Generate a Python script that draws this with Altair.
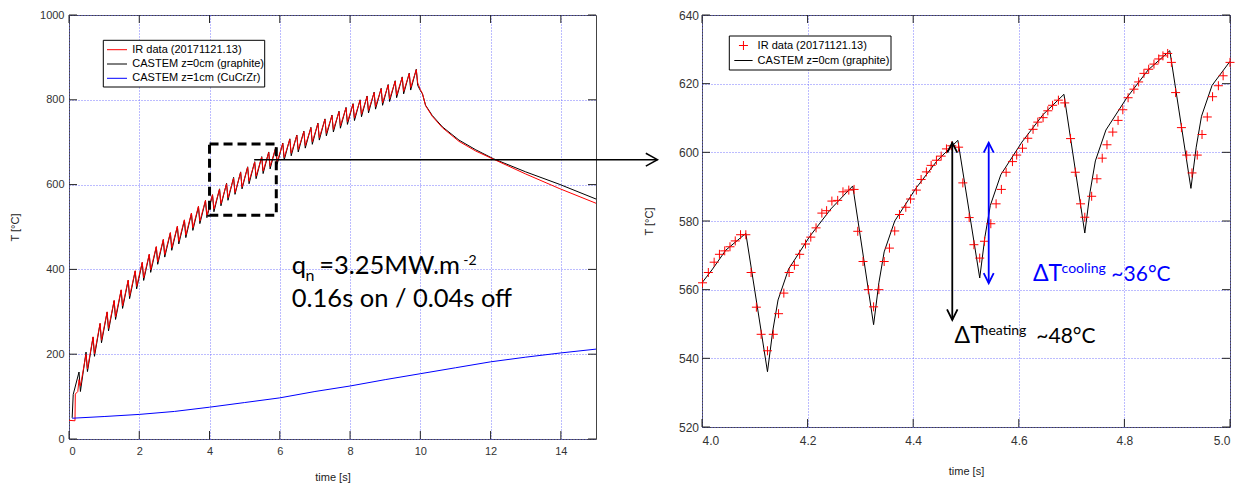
import altair as alt
import pandas as pd

# ======================= LEFT PANEL DATA (full shot) =======================
LEFT_SERIES = ["IR data (20171121.13)", "CASTEM z=0cm (graphite)", "CASTEM z=1cm (CuCrZr)"]
LEFT_COLORS = ["#ff0000", "#000000", "#0000ff"]

# end of each 0.16 s heating phase (peaks) and end of each 0.04 s off phase (troughs)
pulse_peak_t = [0.285, 0.485, 0.685, 0.885, 1.085, 1.285, 1.485, 1.685, 1.885, 2.085,
                2.285, 2.485, 2.685, 2.885, 3.085, 3.285, 3.485, 3.685, 3.885, 4.085,
                4.285, 4.485, 4.685, 4.885, 5.085, 5.285, 5.485, 5.685, 5.885, 6.085,
                6.285, 6.485, 6.685, 6.885, 7.085, 7.285, 7.485, 7.685, 7.885, 8.085,
                8.285, 8.485, 8.685, 8.885, 9.085, 9.285, 9.485, 9.685, 9.885]
pulse_trough_t = [0.325, 0.525, 0.725, 0.925, 1.125, 1.325, 1.525, 1.725, 1.925, 2.125,
                  2.325, 2.525, 2.725, 2.925, 3.125, 3.325, 3.525, 3.725, 3.925, 4.125,
                  4.325, 4.525, 4.725, 4.925, 5.125, 5.325, 5.525, 5.725, 5.925, 6.125,
                  6.325, 6.525, 6.725, 6.925, 7.125, 7.325, 7.525, 7.725, 7.925, 8.125,
                  8.325, 8.525, 8.725, 8.925, 9.125, 9.325, 9.525, 9.725, 9.925]
castem_peak = [158, 205, 240, 272, 299, 326, 351, 374, 396, 416,
               435, 453, 470, 486, 501, 516, 532, 548, 562, 576,
               590, 603, 617, 630, 642, 654, 666, 677, 688, 698,
               708, 717, 726, 735, 745, 755, 764, 773, 782, 791,
               800, 809, 818, 827, 836, 845, 854, 863, 872]
castem_trough = [112, 159, 195, 227, 255, 282, 308, 331, 354, 374,
                 393, 412, 429, 445, 460, 475, 492, 508, 522, 536,
                 550, 563, 577, 590, 602, 614, 626, 637, 648, 658,
                 668, 677, 686, 695, 705, 715, 724, 733, 742, 751,
                 760, 769, 778, 787, 796, 805, 814, 823, 834]
ir_peak = [140, 200, 241, 273, 300, 327, 352, 375, 397, 417,
           436, 454, 471, 487, 502, 517, 533, 549, 563, 576,
           589, 602, 615, 629, 641, 653, 665, 676, 687, 697,
           707, 716, 725, 734, 744, 754, 763, 772, 781, 790,
           799, 808, 817, 826, 835, 844, 853, 862, 871]
ir_trough = [125, 165, 201, 233, 261, 288, 314, 337, 360, 380,
             399, 418, 435, 451, 466, 481, 498, 514, 528, 542,
             555, 569, 581, 594, 608, 620, 632, 643, 654, 664,
             674, 683, 692, 701, 711, 721, 730, 739, 748, 757,
             766, 775, 784, 793, 802, 811, 820, 829, 840]
castem_start_t = [0.09, 0.12]
castem_start_T = [50, 105]
ir_start_t = [0.0, 0.17, 0.18, 0.25]
ir_start_T = [44, 43, 106, 112]
cool_t = [10.0, 10.06, 10.15, 10.34, 10.63, 11.1, 11.58, 12.08, 13.0, 13.95, 15.0]
castem_cool = [822, 814, 787, 763, 736, 705, 682, 661, 630, 601, 566]
ir_cool = [824, 815, 786, 761, 734, 702, 679, 660, 625, 591, 556]
cucrzr_t = [0.09, 1, 2, 3, 4, 5, 6, 7, 8, 9, 10, 11, 12, 13, 14, 15]
cucrzr_T = [49, 53, 58, 65, 75, 86, 97, 112, 125, 140, 154, 168, 182, 193, 203, 212]

left_x_ticks = [0, 2, 4, 6, 8, 10, 12, 14]
left_y_ticks = [0, 200, 400, 600, 800, 1000]

zoom_box_t = [4.0, 5.9]
zoom_box_T = [528, 696]
link_arrow_t = [5.27, 16.75]
link_arrow_T = 658.7

left_text = ["q", "n", "=3.25MW.m", "-2", "0.16s on / 0.04s off"]
left_text_t = [6.34, 6.73, 7.12, 11.22, 6.34]
left_text_T = [388, 372.5, 388, 410, 311]
left_text_size = [25.5, 16, 25.5, 14, 25.5]

# ======================= RIGHT PANEL DATA (zoom 4-5 s) =======================
RIGHT_SERIES = ["IR data (20171121.13)", "CASTEM z=0cm (graphite)"]
RIGHT_COLORS = ["#ff0000", "#000000"]

r_ir_t = [4.001, 4.012, 4.023, 4.033, 4.043, 4.053, 4.063, 4.073, 4.083, 4.093,
          4.103, 4.112, 4.124, 4.135, 4.145, 4.155, 4.165, 4.175, 4.185, 4.196,
          4.206, 4.216, 4.227, 4.236, 4.246, 4.257, 4.267, 4.278, 4.288, 4.295,
          4.305, 4.315, 4.325, 4.335, 4.345, 4.355, 4.365, 4.374, 4.386, 4.395,
          4.406, 4.415, 4.425, 4.434, 4.444, 4.453, 4.463, 4.473, 4.486, 4.494,
          4.506, 4.515, 4.526, 4.535, 4.547, 4.557, 4.567, 4.576, 4.588, 4.596,
          4.607, 4.617, 4.627, 4.636, 4.646, 4.655, 4.664, 4.675, 4.687, 4.698,
          4.707, 4.717, 4.725, 4.738, 4.748, 4.758, 4.767, 4.778, 4.788, 4.797,
          4.807, 4.818, 4.827, 4.837, 4.846, 4.856, 4.865, 4.873, 4.882, 4.889,
          4.897, 4.908, 4.918, 4.928, 4.938, 4.947, 4.957, 4.967, 4.978, 4.987,
          5.000]
r_ir_T = [562, 565, 568, 570.3, 571.3, 572.5, 574.2, 576, 576, 565,
          554.9, 547, 542.2, 547, 553, 559, 565, 567.1, 570.3, 573.3,
          575.3, 578, 582.3, 583, 585.8, 586, 588.5, 589, 589.2, 577,
          568.2, 560, 555, 560, 568.2, 572.1, 577.1, 581.9, 584, 586.4,
          589, 592.1, 594.3, 596.2, 597.7, 598.9, 601, 601.9, 601.5, 591.1,
          581, 573.1, 569.2, 574.1, 579.2, 585, 589.2, 594.2, 597.3, 599.2,
          601.2, 604.1, 606.7, 608.8, 610.1, 612.1, 613.7, 615.2, 614.4, 604,
          594.2, 585, 581.1, 587.2, 592.3, 598.3, 602.2, 605.9, 609.3, 612.4,
          615.9, 618.4, 620.5, 623, 624.2, 625.7, 627.2, 628.1, 628.8, 626.2,
          617.4, 607.2, 599.2, 594, 599.2, 605.2, 610.3, 616.2, 619.4, 622.3,
          626.2]
r_cs_t = [4.000, 4.020, 4.045, 4.083, 4.124, 4.134, 4.144, 4.164, 4.204, 4.244,
          4.2855, 4.325, 4.335, 4.345, 4.365, 4.405, 4.445, 4.4846, 4.526, 4.536,
          4.546, 4.566, 4.606, 4.646, 4.6855, 4.725, 4.735, 4.745, 4.765, 4.805,
          4.845, 4.886, 4.926, 4.936, 4.946, 4.966, 5.000]
r_cs_T = [562, 566, 571.5, 576.4, 536.1, 548, 557, 566, 575.5, 583.5,
          590.2, 549.8, 562, 571, 580, 589.5, 597.5, 603.5, 563.4, 575.5,
          584.5, 593.5, 603, 611, 616.9, 576.5, 588.5, 597.5, 606.5, 616,
          624, 629.6, 589.5, 601.5, 610.5, 619.5, 626.5]

right_x_ticks = [4.0, 4.2, 4.4, 4.6, 4.8, 5.0]
right_y_ticks = [520, 540, 560, 580, 600, 620, 640]

heat_arrow_t = 4.474
heat_arrow_T = [551.2, 602.8]
cool_arrow_t = 4.543
cool_arrow_T = [561.9, 602.8]

blue_text = ["ΔT", "cooling", "~36°C"]
blue_text_t = [4.6267, 4.6811, 4.7753]
blue_text_T = [562.4, 564.8, 562.4]
blue_text_size = [23, 14, 21]
black_text = ["ΔT", "heating", "~48°C"]
black_text_t = [4.4783, 4.5276, 4.6332]
black_text_T = [544.4, 546.8, 544.4]
black_text_size = [23, 14, 21]

# ======================= helpers =======================
W_L, H_L = 527, 424
W_R, H_R = 528, 412
AX_FONT = "Liberation Sans"
ANN_FONT = "Lato"
PLUS = "M-0.9,0L0.9,0M0,-0.9L0,0.9"
ONE = pd.DataFrame({"k": [0]})


def interleave(a, b):
    out = []
    for p, q in zip(a, b):
        out += [p, q]
    return out


def seq(name, ts, Ts, key="series"):
    return pd.DataFrame({"t": ts, "T": Ts, key: name, "idx": list(range(len(ts)))})


def tick_layers(xvals, yvals, X, Y, W, H, n=8):
    tx = alt.Chart(pd.DataFrame({"t": xvals}))
    ty = alt.Chart(pd.DataFrame({"T": yvals}))
    st = dict(color="#222222", strokeWidth=1)
    return [
        tx.mark_rule(**st).encode(x=X, y=alt.value(H), y2=alt.value(H - n)),
        tx.mark_rule(**st).encode(x=X, y=alt.value(0), y2=alt.value(n)),
        ty.mark_rule(**st).encode(y=Y, x=alt.value(0), x2=alt.value(n)),
        ty.mark_rule(**st).encode(y=Y, x=alt.value(W), x2=alt.value(W - n)),
    ]


def chevron(df, path, size, color, X, Y, sw=1.8):
    return alt.Chart(df).mark_point(shape=path, size=size, filled=False, color=color,
                                    strokeWidth=sw, opacity=1).encode(x=X, y=Y)


def legend_layers(box, rows, sym_x, text_x, labels, colors, kinds):
    """MATLAB-style legend box: box=(x1,x2,y1,y2) in panel pixels."""
    out = [alt.Chart(ONE).mark_rect(fill="white", stroke="black", strokeWidth=1).encode(
        x=alt.value(box[0]), x2=alt.value(box[1]), y=alt.value(box[2]), y2=alt.value(box[3]))]
    for ry, lab, col, kind in zip(rows, labels, colors, kinds):
        if kind == "line":
            out.append(alt.Chart(ONE).mark_rule(color=col, strokeWidth=1).encode(
                x=alt.value(sym_x[0]), x2=alt.value(sym_x[1]), y=alt.value(ry)))
        else:
            out.append(alt.Chart(ONE).mark_point(shape=PLUS, size=100, filled=False, color=col,
                                                 strokeWidth=1, opacity=1).encode(
                x=alt.value((sym_x[0] + sym_x[1]) / 2), y=alt.value(ry)))
        out.append(alt.Chart(ONE).mark_text(text=lab, font=AX_FONT, fontSize=11, color="black",
                                            align="left", baseline="middle").encode(
            x=alt.value(text_x), y=alt.value(ry)))
    return out


# ======================= LEFT PANEL =======================
XL = alt.X("t:Q", scale=alt.Scale(domain=[0, 15], nice=False, zero=False),
           axis=alt.Axis(values=left_x_ticks, format="d", title="time [s]", labelFontSize=11,
                         labelPadding=6, titlePadding=15, tickSize=0))
YL = alt.Y("T:Q", scale=alt.Scale(domain=[0, 1000], nice=False),
           axis=alt.Axis(values=left_y_ticks, format="d", title="T [°C]", labelFontSize=11,
                         labelPadding=5, titlePadding=19, tickSize=0))
CL = alt.Color("series:N", scale=alt.Scale(domain=LEFT_SERIES, range=LEFT_COLORS), legend=None)

red_L = seq(LEFT_SERIES[0], ir_start_t + interleave(pulse_peak_t, pulse_trough_t) + cool_t,
            ir_start_T + interleave(ir_peak, ir_trough) + ir_cool)
black_L = seq(LEFT_SERIES[1], castem_start_t + interleave(pulse_peak_t, pulse_trough_t) + cool_t,
              castem_start_T + interleave(castem_peak, castem_trough) + castem_cool)
blue_L = seq(LEFT_SERIES[2], cucrzr_t, cucrzr_T)

# black drawn first, red IR data on top, then blue
line_layers_L = [
    alt.Chart(d).mark_line(strokeWidth=1).encode(x=XL, y=YL, color=CL, order="idx:Q")
    for d in (black_L, red_L, blue_L)
]

box_df = pd.DataFrame({"t": [zoom_box_t[0]], "t2": [zoom_box_t[1]],
                       "T": [zoom_box_T[0]], "T2": [zoom_box_T[1]]})
box = alt.Chart(box_df).mark_rect(fill="transparent", stroke="black", strokeWidth=3,
                                  strokeDash=[9, 5]).encode(x=XL, x2="t2", y=YL, y2="T2")

arrow_df = pd.DataFrame({"t": [link_arrow_t[0]], "t2": [link_arrow_t[1]], "T": [link_arrow_T]})
arrow_line = alt.Chart(arrow_df).mark_rule(color="black", strokeWidth=1.5).encode(x=XL, x2="t2", y=YL)
arrow_head = chevron(pd.DataFrame({"t": [link_arrow_t[1]], "T": [link_arrow_T]}),
                     "M-3.6,-2L0,0L-3.6,2", 42, "black", XL, YL, sw=1.5)

ltxt_df = pd.DataFrame({"t": left_text_t, "T": left_text_T, "label": left_text, "fs": left_text_size})
ltxt = alt.Chart(ltxt_df).mark_text(font=ANN_FONT, align="left", baseline="alphabetic",
                                    color="black").encode(
    x=XL, y=YL, text="label:N", size=alt.Size("fs:Q", scale=None))

left_leg = legend_layers((34.3, 195.7, 25.3, 72.0), [34.7, 49.0, 63.3], (38, 58), 63.3,
                         LEFT_SERIES, LEFT_COLORS, ["line", "line", "line"])

left = alt.layer(
    *line_layers_L, box, arrow_line, arrow_head, ltxt,
    *tick_layers(left_x_ticks, left_y_ticks, XL, YL, W_L, H_L), *left_leg
).properties(width=W_L, height=H_L)

# ======================= RIGHT PANEL =======================
XR = alt.X("t:Q", scale=alt.Scale(domain=[4, 5], nice=False, zero=False),
           axis=alt.Axis(values=right_x_ticks, format=".1f", title="time [s]", labelFontSize=12,
                         labelPadding=8, titlePadding=19, tickSize=0))
YR = alt.Y("T:Q", scale=alt.Scale(domain=[520, 640], nice=False, zero=False),
           axis=alt.Axis(values=right_y_ticks, title="T [°C]", labelFontSize=12,
                         labelPadding=3.5, titlePadding=23.5, tickSize=0))
CR = alt.Color("series_r:N", scale=alt.Scale(domain=RIGHT_SERIES, range=RIGHT_COLORS), legend=None)

red_R = seq(RIGHT_SERIES[0], r_ir_t, r_ir_T, key="series_r")
black_R = seq(RIGHT_SERIES[1], r_cs_t, r_cs_T, key="series_r")

pts_R = alt.Chart(red_R).mark_point(shape=PLUS, filled=False, size=100, strokeWidth=1,
                                    opacity=1).encode(x=XR, y=YR, color=CR)
line_R = alt.Chart(black_R).mark_line(strokeWidth=1).encode(x=XR, y=YR, color=CR, order="idx:Q")

heat_df = pd.DataFrame({"t": [heat_arrow_t], "T": [heat_arrow_T[0]], "T2": [heat_arrow_T[1]]})
cool_df = pd.DataFrame({"t": [cool_arrow_t], "T": [cool_arrow_T[0]], "T2": [cool_arrow_T[1]]})
heat_rule = alt.Chart(heat_df).mark_rule(color="black", strokeWidth=1.8).encode(x=XR, y=YR, y2="T2")
cool_rule = alt.Chart(cool_df).mark_rule(color="#0000ff", strokeWidth=1.8).encode(x=XR, y=YR, y2="T2")
UP = "M-1,2L0,0L1,2"
DOWN = "M-1,-2L0,0L1,-2"
heads = [
    chevron(pd.DataFrame({"t": [heat_arrow_t], "T": [heat_arrow_T[1]]}), UP, 100, "black", XR, YR),
    chevron(pd.DataFrame({"t": [heat_arrow_t], "T": [heat_arrow_T[0]]}), DOWN, 110, "black", XR, YR),
    chevron(pd.DataFrame({"t": [cool_arrow_t], "T": [cool_arrow_T[1]]}), UP, 100, "#0000ff", XR, YR),
    chevron(pd.DataFrame({"t": [cool_arrow_t], "T": [cool_arrow_T[0]]}), DOWN, 100, "#0000ff", XR, YR),
]

btxt_df = pd.DataFrame({"t": blue_text_t, "T": blue_text_T, "label": blue_text, "fs": blue_text_size})
ktxt_df = pd.DataFrame({"t": black_text_t, "T": black_text_T, "label": black_text, "fs": black_text_size})
btxt = alt.Chart(btxt_df).mark_text(font=ANN_FONT, align="left", baseline="alphabetic",
                                    color="#0000ff").encode(
    x=XR, y=YR, text="label:N", size=alt.Size("fs:Q", scale=None))
ktxt = alt.Chart(ktxt_df).mark_text(font=ANN_FONT, align="left", baseline="alphabetic",
                                    color="black").encode(
    x=XR, y=YR, text="label:N", size=alt.Size("fs:Q", scale=None))

right_leg = legend_layers((27.3, 189.0, 21.0, 55.0), [30.5, 45.5], (32.3, 50.6), 55.6,
                          RIGHT_SERIES, RIGHT_COLORS, ["plus", "line"])

right = alt.layer(
    line_R, pts_R, heat_rule, cool_rule, *heads, btxt, ktxt,
    *tick_layers(right_x_ticks, right_y_ticks, XR, YR, W_R, H_R), *right_leg
).properties(width=W_R, height=H_R)

# ======================= ASSEMBLY =======================
chart = alt.hconcat(left, right, spacing=106, bounds="flush").resolve_scale(
    color="independent"
).properties(
    padding={"left": 1, "top": 0, "right": 0, "bottom": 0}
).configure_view(
    stroke="#444444", strokeWidth=1
).configure_axis(
    labelFont=AX_FONT, titleFont=AX_FONT, titleFontWeight="normal", titleFontSize=11,
    labelColor="#333333", titleColor="#222222", grid=True, gridColor="#6b6bff",
    gridDash=[1, 2], gridOpacity=0.9, gridWidth=1, domain=False, ticks=False
)

chart.save("out.html", embed_options={"renderer": "svg", "actions": False})
